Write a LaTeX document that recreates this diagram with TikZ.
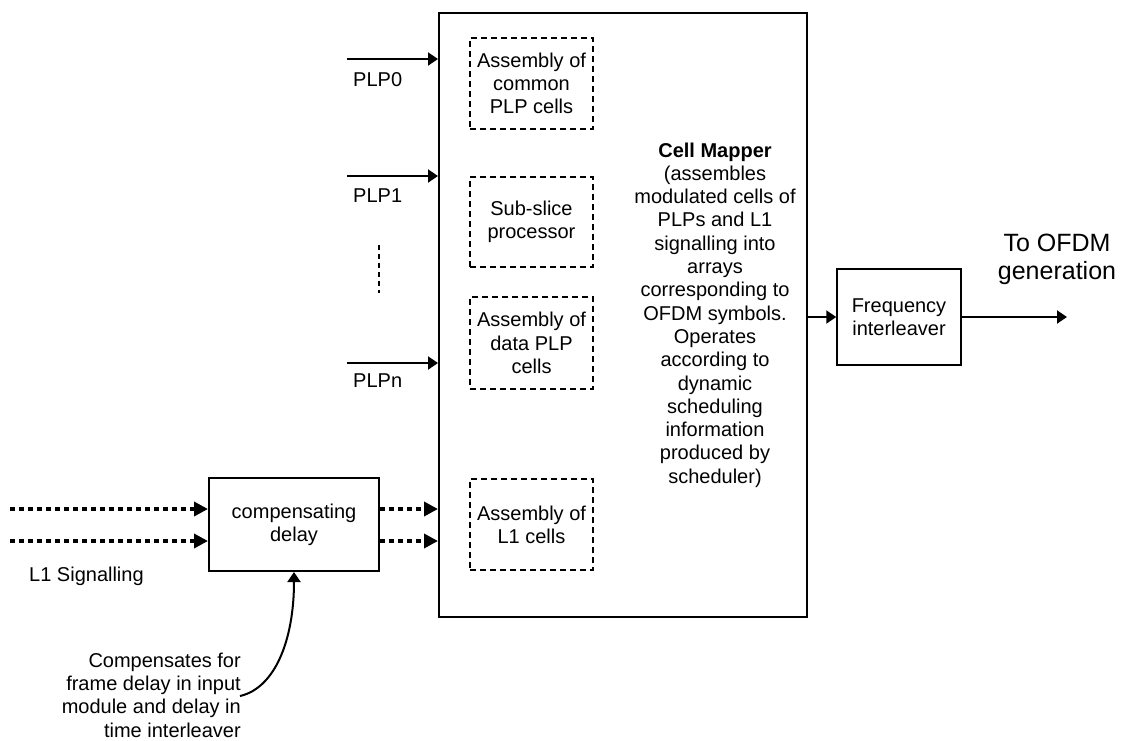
\documentclass[tikz,border=0pt]{standalone}
\usepackage{fontspec}
\setmainfont{Liberation Sans}
\usetikzlibrary{arrows.meta}
\begin{document}
\begin{tikzpicture}[x=1pt,y=-1pt,
  every node/.style={font=\fontsize{20pt}{23.3pt}\selectfont, inner sep=0pt},
  solidbox/.style={draw, line width=2pt, align=center},
  dashbox/.style={draw, line width=1.5pt, dash pattern=on 6pt off 4pt, align=center, minimum width=123pt},
  arr/.style={line width=2pt, -{Triangle[length=10pt,width=13pt]}},
  dotarr/.style={line width=4.5pt, dash pattern=on 5pt off 4pt, -{Triangle[length=14pt,width=14pt]}},
  vdash/.style={line width=1.5pt, dash pattern=on 5pt off 4pt},
  lbl/.style={anchor=base west}]
\useasboundingbox (0,0) rectangle (1122,740);

% main cell mapper box
\node[solidbox, minimum width=368pt, minimum height=604pt] (cm) at (623,315) {};
\node[align=center] (cmt) at (715,315) {\textbf{Cell Mapper}\\(assembles\\modulated cells of\\PLPs and L1\\signalling into\\arrays\\corresponding to\\OFDM symbols.\\Operates\\according to\\dynamic\\scheduling\\information\\produced by\\scheduler)};

% dashed inner boxes
\node[dashbox, minimum height=91pt] (b1) at (531.5,83.5) {Assembly of\\common\\PLP cells};
\node[dashbox, minimum height=90pt] (b2) at (531.5,222) {Sub-slice\\processor};
\node[dashbox, minimum height=92pt] (b3) at (531.5,343) {Assembly of\\data PLP\\cells};
\node[dashbox, minimum height=91pt] (b4) at (531.5,524.5) {Assembly of\\L1 cells};

% PLP inputs
\coordinate (p0) at (347,59);
\coordinate (p1) at (347,176);
\coordinate (pn) at (347,363);
\draw[arr] (p0) -- (p0 -| cm.west);
\draw[arr] (p1) -- (p1 -| cm.west);
\draw[arr] (pn) -- (pn -| cm.west);
\node[lbl] (lp0) at (353,86) {PLP0};
\node[lbl] (lp1) at (353,202) {PLP1};
\node[lbl] (lpn) at (353,387) {PLPn};
\coordinate (v1) at (379,245);
\coordinate (v2) at (379,293);
\draw[vdash] (v1) -- (v2);

% compensating delay
\node[solidbox, minimum width=170pt, minimum height=93pt] (cd) at (294,524.5) {compensating\\delay};
\coordinate (d1) at (10,509);
\coordinate (d2) at (10,541);
\draw[dotarr] (d1) -- (d1 -| cd.west);
\draw[dotarr] (d2) -- (d2 -| cd.west);
\draw[dotarr] (d1 -| cd.east) -- (d1 -| cm.west);
\draw[dotarr] (d2 -| cd.east) -- (d2 -| cm.west);
\node[lbl] (l1s) at (29,581) {L1 Signalling};

% compensates note
\node[align=right, anchor=east] (note) at (241,695) {Compensates for\\frame delay in input\\module and delay in\\time interleaver};
\coordinate (cs) at (240,696);
\draw[arr] (cs) .. controls (275,688) and (294,640) .. (cd.south);

% frequency interleaver
\node[draw, line width=1.5pt, align=center, minimum width=124pt, minimum height=96pt] (fi) at (899,317) {Frequency\\interleaver};
\draw[arr] (fi.west -| cm.east) -- (fi.west);
\coordinate (out) at (1067,317);
\draw[arr] (fi.east) -- (out);
\node[align=center, font=\fontsize{25pt}{28pt}\selectfont] (ofdm) at (1057,259) {To OFDM\\generation};
\end{tikzpicture}
\end{document}
